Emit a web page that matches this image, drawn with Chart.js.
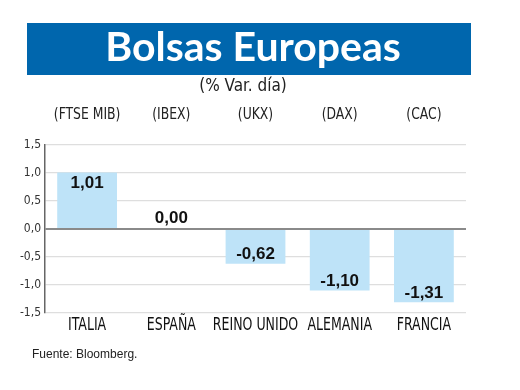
<!DOCTYPE html>
<html>
<head>
<meta charset="utf-8">
<script src="https://cdn.jsdelivr.net/npm/chart.js@4.4.0/dist/chart.umd.min.js"></script>
<style>
  html, body { margin: 0; padding: 0; background: #fff; }
  #wrap { width: 520px; height: 390px; }
</style>
</head>
<body>
<div id="wrap"><canvas id="bolsas" width="520" height="390"></canvas></div>
<script>
var paises = ['ITALIA', 'ESPAÑA', 'REINO UNIDO', 'ALEMANIA', 'FRANCIA'];
var indices = ['(FTSE MIB)', '(IBEX)', '(UKX)', '(DAX)', '(CAC)'];
var variacion = [1.01, 0.00, -0.62, -1.10, -1.31];

var narrow = "'Liberation Sans Narrow', 'DejaVu Sans Condensed', sans-serif";

function coma(v, d) {
  return v.toFixed(d).replace('.', ',');
}

// condensed text, squeezed horizontally
function textoEstrecho(ctx, txt, x, y, factor) {
  ctx.save();
  ctx.translate(x, y);
  ctx.scale(factor, 1);
  ctx.fillText(txt, 0, 0);
  ctx.restore();
}

// banner, subtitle and source note
var decorado = {
  id: 'decorado',
  beforeDraw: function(chart) {
    var ctx = chart.ctx;
    ctx.save();
    ctx.fillStyle = '#fff';
    ctx.fillRect(0, 0, chart.width, chart.height);

    ctx.fillStyle = '#0066ad';
    ctx.fillRect(27, 23, 444, 52);

    ctx.fillStyle = '#fff';
    ctx.font = "bold 41px Lato, 'Open Sans', sans-serif";
    ctx.textAlign = 'center';
    ctx.textBaseline = 'alphabetic';
    ctx.fillText('Bolsas Europeas', 253, 61);

    ctx.fillStyle = '#222';
    ctx.font = '17px ' + narrow;
    ctx.textBaseline = 'middle';
    ctx.fillText('(% Var. día)', 243, 87);

    ctx.textAlign = 'left';
    ctx.font = "12px 'Liberation Sans', Arial, sans-serif";
    ctx.fillText('Fuente: Bloomberg.', 32, 355);
    ctx.restore();
  }
};

// category names (bottom) and index names (top), placed on the category scales
var rotulos = {
  id: 'rotulos',
  afterDraw: function(chart) {
    var ctx = chart.ctx;
    var sx = chart.scales.x;
    var sx2 = chart.scales.x2;
    ctx.save();
    ctx.textAlign = 'center';
    ctx.textBaseline = 'middle';
    ctx.fillStyle = '#111';
    ctx.font = '17px ' + narrow;
    paises.forEach(function(p, i) {
      textoEstrecho(ctx, p, sx.getPixelForValue(i), sx.bottom - 17, 0.82);
    });
    ctx.fillStyle = '#222';
    ctx.font = '16px ' + narrow;
    indices.forEach(function(t, i) {
      textoEstrecho(ctx, t, sx2.getPixelForValue(i), sx2.top + 15, 0.86);
    });
    ctx.restore();
  }
};

// value labels on the bars
var etiquetas = {
  id: 'etiquetas',
  afterDatasetsDraw: function(chart) {
    var ctx = chart.ctx;
    var meta = chart.getDatasetMeta(0);
    ctx.save();
    ctx.fillStyle = '#111';
    ctx.font = "bold 17px 'Liberation Sans', Arial, sans-serif";
    ctx.textAlign = 'center';
    ctx.textBaseline = 'middle';
    meta.data.forEach(function(bar, i) {
      var v = variacion[i];
      var y;
      if (v > 0) y = bar.y + 11;
      else if (v === 0) y = bar.y - 11;
      else y = bar.y - 9;
      ctx.fillText(coma(v, 2), bar.x, y);
    });
    ctx.restore();
  }
};

new Chart(document.getElementById('bolsas'), {
  type: 'bar',
  data: {
    labels: paises,
    datasets: [{
      data: variacion,
      backgroundColor: '#bee3f8',
      borderWidth: 0,
      barPercentage: 0.71,
      categoryPercentage: 1.0
    }]
  },
  options: {
    responsive: false,
    animation: false,
    layout: { padding: { top: 100, right: 54, bottom: 47, left: 0 } },
    plugins: {
      legend: { display: false },
      tooltip: { enabled: false }
    },
    scales: {
      x: {
        grid: { display: false, drawTicks: false },
        border: { display: false },
        ticks: { display: false },
        afterFit: function(scale) { scale.height = 30; }
      },
      x2: {
        type: 'category',
        labels: indices,
        position: 'top',
        offset: true,
        grid: { display: false, drawTicks: false },
        border: { display: false },
        ticks: { display: false },
        afterFit: function(scale) { scale.height = 45; }
      },
      y: {
        min: -1.5,
        max: 1.5,
        border: { display: true, color: '#666', width: 1.5 },
        grid: {
          drawTicks: false,
          color: function(c) { return c.tick && c.tick.value === 0 ? '#8a8a8a' : '#dedede'; },
          lineWidth: function(c) { return c.tick && c.tick.value === 0 ? 2 : 1.2; }
        },
        ticks: {
          stepSize: 0.5,
          color: '#333',
          font: { family: narrow, size: 12 },
          padding: 4,
          callback: function(v) { return coma(v, 1); }
        },
        afterFit: function(scale) { scale.width = 45; }
      }
    }
  },
  plugins: [decorado, rotulos, etiquetas]
});
</script>
</body>
</html>
